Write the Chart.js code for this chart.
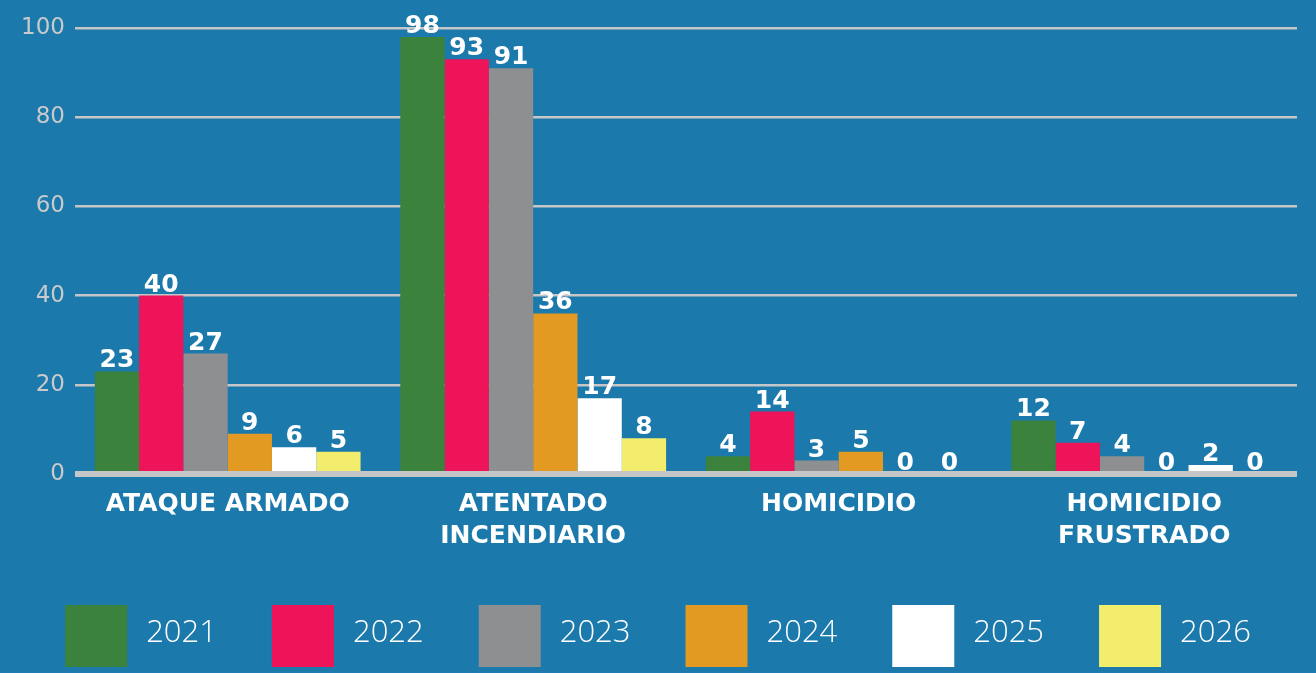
<!DOCTYPE html>
<html>
<head>
<meta charset="utf-8">
<script src="https://cdn.jsdelivr.net/npm/chart.js@4.4.0/dist/chart.umd.min.js"></script>
<style>
  html, body { margin: 0; padding: 0; background: #1b79ab; }
  #chart { display: block; }
</style>
</head>
<body>
<canvas id="chart" width="1316" height="673"></canvas>
<script>
    'use strict';

    var categories = [['ATAQUE ARMADO'], ['ATENTADO', 'INCENDIARIO'], ['HOMICIDIO'], ['HOMICIDIO', 'FRUSTRADO']];
    var years = ['2021', '2022', '2023', '2024', '2025', '2026'];
    var values2021 = [23, 98, 4, 12];
    var values2022 = [40, 93, 14, 7];
    var values2023 = [27, 91, 3, 4];
    var values2024 = [9, 36, 5, 0];
    var values2025 = [6, 17, 0, 2];
    var values2026 = [5, 8, 0, 0];
    var yTicks = [0, 20, 40, 60, 80, 100];

    var colors = ['#3b823d', '#ee1459', '#8e8f91', '#e29a22', '#ffffff', '#f3ed6e'];
    var allValues = [values2021, values2022, values2023, values2024, values2025, values2026];

    var datasets = [];
    for (var i = 0; i < years.length; i++) {
        datasets.push({
            label: years[i],
            data: allValues[i],
            backgroundColor: colors[i],
            borderWidth: 0
        });
    }

    // numbers over the bars
    var valueLabels = {
        id: 'valueLabels',
        afterDatasetsDraw: function (chart) {
            var ctx = chart.ctx;
            ctx.save();
            ctx.fillStyle = '#ffffff';
            ctx.font = 'bold 25px "DejaVu Sans"';
            ctx.textAlign = 'center';
            ctx.textBaseline = 'alphabetic';
            chart.data.datasets.forEach(function (ds, di) {
                var meta = chart.getDatasetMeta(di);
                meta.data.forEach(function (bar, j) {
                    ctx.fillText(ds.data[j], bar.x, bar.y - 4);
                });
            });
            ctx.restore();
        }
    };

    // big square legend at the bottom
    var squareLegend = {
        id: 'squareLegend',
        afterDraw: function (chart) {
            var ctx = chart.ctx;
            var box = 62, gap = 19, after = 55;
            ctx.save();
            ctx.font = '300 31px "Open Sans"';
            ctx.textBaseline = 'middle';
            var total = 0;
            chart.data.datasets.forEach(function (ds, k) {
                total += box + gap + ctx.measureText(ds.label).width;
                if (k > 0) total += after;
            });
            var x = (chart.width - total) / 2;
            var top = 605;
            chart.data.datasets.forEach(function (ds) {
                ctx.fillStyle = ds.backgroundColor;
                ctx.fillRect(x, top, box, box);
                ctx.fillStyle = '#ffffff';
                ctx.fillText(ds.label, x + box + gap, top + box / 2 - 3);
                x += box + gap + ctx.measureText(ds.label).width + after;
            });
            ctx.restore();
        }
    };

    var ctx = document.getElementById('chart').getContext('2d');
    var chart = new Chart(ctx, {
        type: 'bar',
        data: {
            labels: categories,
            datasets: datasets
        },
        plugins: [valueLabels, squareLegend],
        options: {
            responsive: false,
            animation: false,
            layout: {
                padding: { top: 28, right: 19, left: 11, bottom: 107 }
            },
            datasets: {
                bar: {
                    categoryPercentage: 0.87,
                    barPercentage: 1
                }
            },
            plugins: {
                tooltip: { enabled: false },
                legend: { display: false }
            },
            scales: {
                x: {
                    grid: { display: false, drawTicks: false },
                    border: { display: false },
                    ticks: {
                        color: '#ffffff',
                        padding: 14,
                        font: { family: '"DejaVu Sans"', size: 25, weight: 'bold', lineHeight: 1.28 }
                    }
                },
                y: {
                    min: 0,
                    max: 100,
                    afterBuildTicks: function (axis) {
                        axis.ticks = yTicks.map(function (v) { return { value: v }; });
                    },
                    border: { display: false },
                    grid: {
                        drawTicks: false,
                        color: '#c4c6c8',
                        lineWidth: function (c) { return c.tick.value === 0 ? 6 : 2.5; }
                    },
                    ticks: {
                        color: '#c8cacc',
                        padding: 10,
                        font: { family: '"DejaVu Sans"', size: 23, weight: '400' }
                    }
                }
            }
        }
    });
</script>
</body>
</html>
